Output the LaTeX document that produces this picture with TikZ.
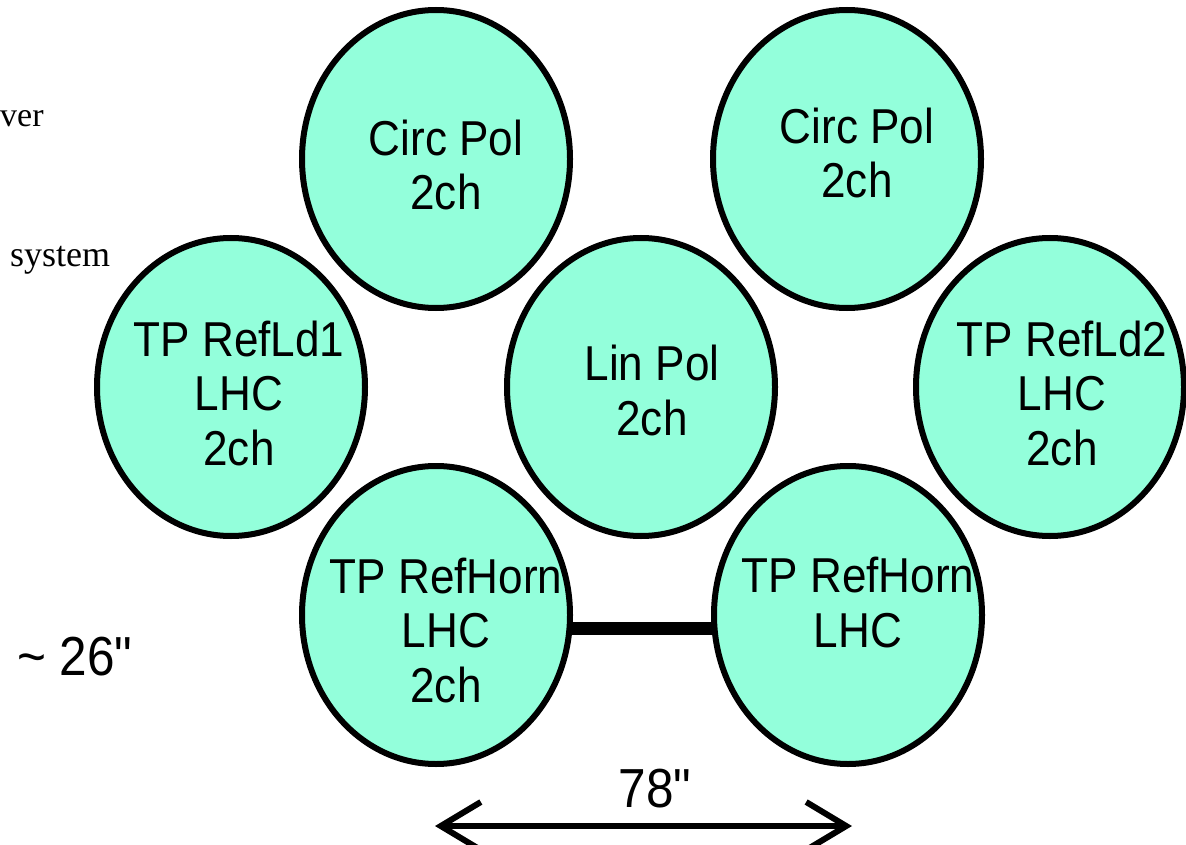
\documentclass[tikz,border=0pt]{standalone}
\usepackage{fontspec}
\setmainfont{Liberation Serif}
\newfontfamily\lab{Liberation Sans}[FakeStretch=0.9]
\usetikzlibrary{shapes.geometric,arrows.meta}
\definecolor{hornfill}{RGB}{147,255,219}
\tikzset{
  horn/.style={ellipse, draw=black, fill=hornfill, line width=6pt,
    minimum width=268pt, minimum height=298pt, inner sep=0pt, outer sep=0pt},
  hlabel/.style={font=\lab\fontsize{49}{54.5}\selectfont, align=center,
    anchor=base, inner sep=0pt, text=black},
  dimlabel/.style={font=\lab\fontsize{55}{60}\selectfont, inner sep=0pt, text=black},
  sidetext/.style={font=\fontsize{36}{40}\selectfont, inner sep=0pt, text=black},
  linkbar/.style={line width=13pt, black},
  dimarrow/.style={line width=6pt, black,
    arrows={Straight Barb[length=40pt,width=48pt]-Straight Barb[length=40pt,width=48pt]}}
}
\begin{document}
\begin{tikzpicture}[x=1pt,y=-1pt]
\useasboundingbox (0,0) rectangle (1186,845);
% side texts
\node[sidetext, font=\fontsize{34}{38}\selectfont, anchor=base west] (ver) at (0,127) {ver};
\node[sidetext, anchor=base west] (sys) at (10,266) {system};
% horns
\node[horn] (cL) at (436,159) {};
\node[horn] (cR) at (847,159) {};
\node[horn] (ld1) at (231,387) {};
\node[horn] (lin) at (641,387) {};
\node[horn] (ld2) at (1050,387) {};
\node[horn] (hL) at (436,615) {};
\node[horn] (hR) at (848,615) {};
% link between reference horns
\draw[linkbar] ([yshift=-13pt]hL.east) -- ([yshift=-13pt]hR.west);
% labels (anchor = baseline of last line)
\node[hlabel] (tcL) at (446,210) {Circ Pol\\2ch};
\node[hlabel] (tcR) at (857,198) {Circ Pol\\2ch};
\node[hlabel] (tlin) at (652,435) {Lin Pol\\2ch};
\node[hlabel] (tld1) at (239,465) {TP RefLd1\\LHC\\2ch};
\node[hlabel] (tld2) at (1062,465) {TP RefLd2\\LHC\\2ch};
\node[hlabel] (thL) at (446,702) {TP RefHorn\\LHC\\2ch};
\node[hlabel] (thR) at (858,647) {TP RefHorn\\LHC};
% dimensions
\node[dimlabel, anchor=base west] (d26) at (17,675) {\textasciitilde\ 26"};
\node[dimlabel, anchor=base] (d78) at (655,807) {78"};
\coordinate (aL) at (435,826);
\coordinate (aR) at (852,826);
\draw[dimarrow] (aL) -- (aR);
\end{tikzpicture}
\end{document}
